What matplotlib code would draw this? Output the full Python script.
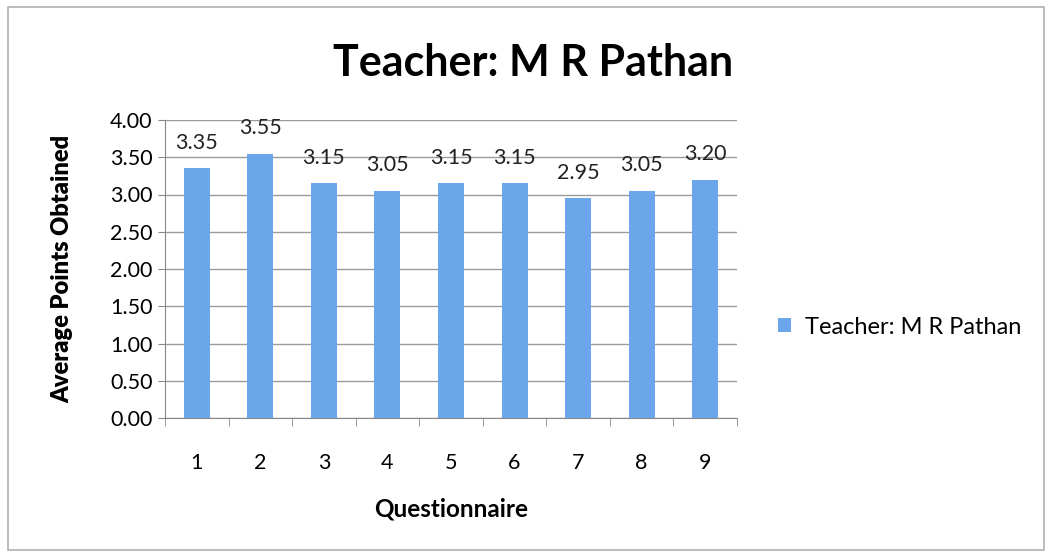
import matplotlib
matplotlib.use("Agg")
import matplotlib.pyplot as plt
from matplotlib.patches import Rectangle
import numpy as np

categories = ["1", "2", "3", "4", "5", "6", "7", "8", "9"]
values = [3.35, 3.55, 3.15, 3.05, 3.15, 3.15, 2.95, 3.05, 3.20]
yticks = [0.00, 0.50, 1.00, 1.50, 2.00, 2.50, 3.00, 3.50, 4.00]
series_name = "Teacher: M R Pathan"
title = "Teacher: M R Pathan"

plt.rcParams['font.family'] = ['Lato', 'DejaVu Sans']

fig = plt.figure(figsize=(10.49, 5.56), dpi=100)
fig.patch.set_facecolor('white')
fig.patches.append(Rectangle((8/1049, 6/556), 1036/1049, 543/556, transform=fig.transFigure,
                             fill=False, edgecolor='#b0b0b0', linewidth=1.2))

ax = fig.add_axes([165/1049, 1 - 418/556, 572/1049, 298/556])
x = np.arange(1, len(categories) + 1)
bar_color = '#6AA6E9'
bars = ax.bar(x, values, width=0.41, color=bar_color, label=series_name, zorder=3)

ax.set_xlim(0.5, len(categories) + 0.5)
ax.set_ylim(0, 4.0)
ax.set_yticks(yticks)
ax.set_yticklabels([f"{v:.2f}" for v in yticks], fontsize=15.5)
ax.set_xticks(x)
ax.set_xticklabels(categories, fontsize=15.5)
ax.set_xticks(np.arange(0.5, len(categories) + 1, 1.0), minor=True)
ax.tick_params(axis='x', which='major', length=0, pad=25)
ax.tick_params(axis='x', which='minor', length=6, color='#888888', direction='out')
ax.tick_params(axis='y', which='major', length=5, color='#888888', direction='out', pad=4)

ax.grid(axis='y', color='#9a9a9a', linewidth=1.0, zorder=0)
for s in ['top', 'right']:
    ax.spines[s].set_visible(False)
ax.spines['left'].set_color('#888888')
ax.spines['bottom'].set_color('#888888')

for xi, v in zip(x, values):
    ax.text(xi, v + 0.21, f"{v:.2f}", ha='center', va='bottom', fontsize=15.5, color='#222222')

ax.set_ylabel("Average Points Obtained", fontsize=17, fontweight='heavy', labelpad=26)
ax.set_xlabel("Questionnaire", fontsize=17.5, fontweight='bold', labelpad=18)

fig.text(533/1049, 1 - 63/556, title, ha='center', va='center', fontsize=31, fontweight='bold')

leg = ax.legend(loc='center left', bbox_to_anchor=(1.035, 0.305), frameon=False, fontsize=17,
                handlelength=0.55, handleheight=0.55, handletextpad=0.6)

fig.savefig("out.png", dpi=100, facecolor='white')
